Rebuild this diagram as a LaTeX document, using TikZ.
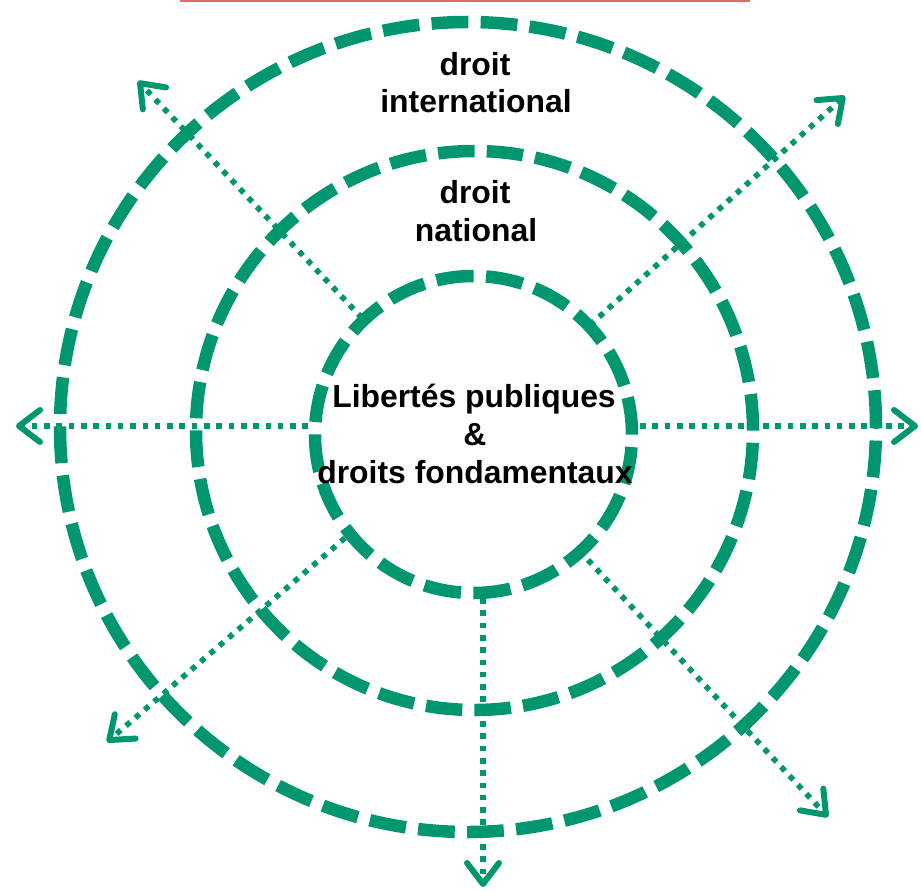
\documentclass[tikz,border=0pt]{standalone}
\usepackage{fontspec}
\setmainfont{Liberation Sans}
\usetikzlibrary{arrows.meta,shapes.geometric}
\definecolor{ringgreen}{RGB}{0,150,112}
\definecolor{rulered}{RGB}{228,104,104}

\begin{document}
\begin{tikzpicture}[x=1bp,y=-1bp,
  ring/.style={draw=ringgreen, line width=12.5bp, ellipse, inner sep=0pt, outer sep=0pt},
  ringouter/.style={ring, dash pattern=on 36.8bp off 12.3bp},
  ringmiddle/.style={ring, dash pattern=on 36.5bp off 12.2bp},
  ringinner/.style={ring, dash pattern=on 37.3bp off 12.5bp},
  ray/.style={draw=ringgreen, line width=5.6bp, dash pattern=on 5.6bp off 6.7bp,
    -{Straight Barb[length=21bp,width=32bp,line width=6bp,round]}},
  txt/.style={font=\fontsize{32}{38}\selectfont\bfseries, anchor=base, inner sep=0pt, text=black},
  rule/.style={draw=rulered, line width=2.2bp}
]
\useasboundingbox (0,0) rectangle (921,891);

% rule along the top edge
\coordinate (ruleL) at (180,1);
\coordinate (ruleR) at (750,1);
\draw[rule] (ruleL) -- (ruleR);

% the three concentric dashed rings
\node[ringouter, minimum width=816bp, minimum height=810bp] (outer) at (468,427) {};
\node[ringmiddle, minimum width=557bp, minimum height=559bp] (middle) at (474.5,430.5) {};
\node[ringinner, minimum width=317bp, minimum height=317bp] (inner) at (473.5,434.5) {};

% start points of the rays on the inner ring, and their free ends
\coordinate (sW)  at (308,426);  \coordinate (eW)  at (16,426);
\coordinate (sE)  at (640,426);  \coordinate (eE)  at (918,426);
\coordinate (sS)  at (483,598);  \coordinate (eS)  at (483,887);
\coordinate (sNW) at (362,318);  \coordinate (eNW) at (138,81);
\coordinate (sNE) at (590,325);  \coordinate (eNE) at (845,96);
\coordinate (sSW) at (345,538);  \coordinate (eSW) at (107,742);
\coordinate (sSE) at (588,560);  \coordinate (eSE) at (828,817);

\foreach \d in {W,E,S,NW,NE,SW,SE}
  \draw[ray] (s\d) -- (e\d);

% labels
\node[txt] (intA) at (475,75)  {droit};
\node[txt] (intB) at (476,112) {international};
\node[txt] (natA) at (475,203) {droit};
\node[txt] (natB) at (476,241) {national};
\node[txt] (libA) at (474,407) {Libertés publiques};
\node[txt] (libB) at (475,445) {\&};
\node[txt] (libC) at (475,483) {droits fondamentaux};
\end{tikzpicture}
\end{document}
